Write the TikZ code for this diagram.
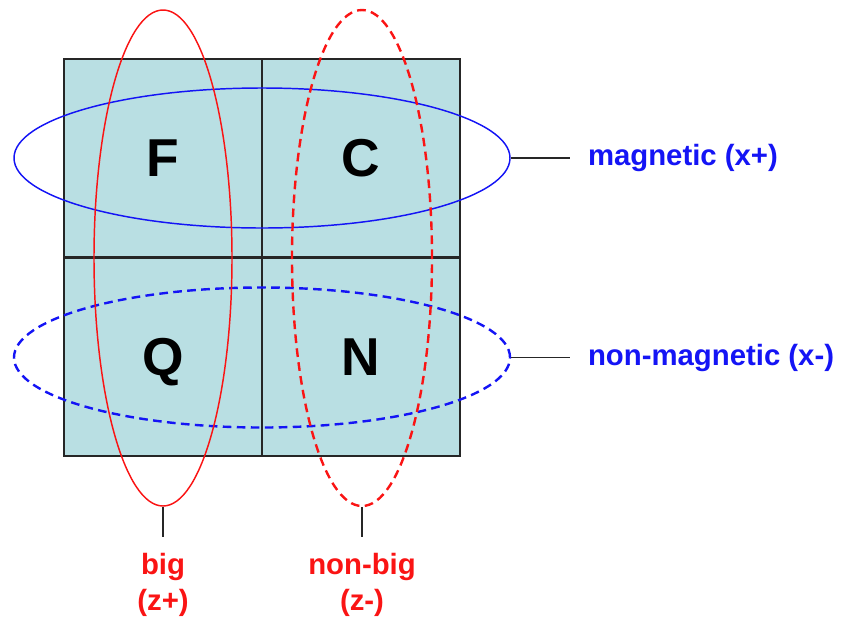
\documentclass[tikz,border=0pt]{standalone}
\usepackage{fontspec}
\setmainfont{Liberation Sans}
\usetikzlibrary{shapes.geometric}
\definecolor{cellfill}{RGB}{185,223,227}
\definecolor{setblue}{RGB}{20,20,245}
\definecolor{setred}{RGB}{250,20,20}
\begin{document}
\begin{tikzpicture}[x=0.75pt, y=-0.75pt,
    cell/.style={rectangle, fill=cellfill, draw=black!85, line width=1.3pt, minimum size=149pt, inner sep=0pt, text depth=0pt, font=\fontsize{40}{48}\selectfont\bfseries},
    set/.style={ellipse, inner sep=0pt, line width=1.1pt},
    setdash/.style={set, line width=1.8pt, dash pattern=on 6.5pt off 4pt},
    lbl/.style={inner sep=0pt, font=\fontsize{22}{27}\selectfont\bfseries},
    link/.style={draw=black!85, line width=0.8pt}]
    \useasboundingbox (0,0) rectangle (845,618);

    % cells
    \node[cell] (F) at (163,158) {F};
    \node[cell] (C) at (361,158) {C};
    \node[cell] (Q) at (163,357) {Q};
    \node[cell] (N) at (361,357) {N};

    % sets x
    \node[set, draw=setblue, minimum width=372pt, minimum height=105pt] (mag) at (262,158) {};
    \node[setdash, draw=setblue, minimum width=372pt, minimum height=105pt] (nonmag) at (262,357.5) {};

    % sets z
    \node[set, draw=setred, minimum width=103.5pt, minimum height=372pt] (big) at (163,258) {};
    \node[setdash, draw=setred, minimum width=105pt, minimum height=372pt] (nonbig) at (362,258) {};

    % labels
    \node[lbl, text=setblue, anchor=west, outer xsep=13.5pt] (maglbl) at (570,158) {magnetic (x+)};
    \node[lbl, text=setblue, anchor=west, outer xsep=13.5pt] (nonmaglbl) at (570,357.5) {non-magnetic (x-)};
    \node[lbl, text=setred, anchor=north, align=center, outer ysep=12pt] (biglbl) at (163,537) {big\\(z+)};
    \node[lbl, text=setred, anchor=north, align=center, outer ysep=12pt] (nonbiglbl) at (362,537) {non-big\\(z-)};

    \draw[link] (mag.east) -- (maglbl.west);
    \draw[link] (nonmag.east) -- (nonmaglbl.west);
    \draw[link] (big.south) -- (biglbl.north);
    \draw[link] (nonbig.south) -- (nonbiglbl.north);
\end{tikzpicture}
\end{document}
